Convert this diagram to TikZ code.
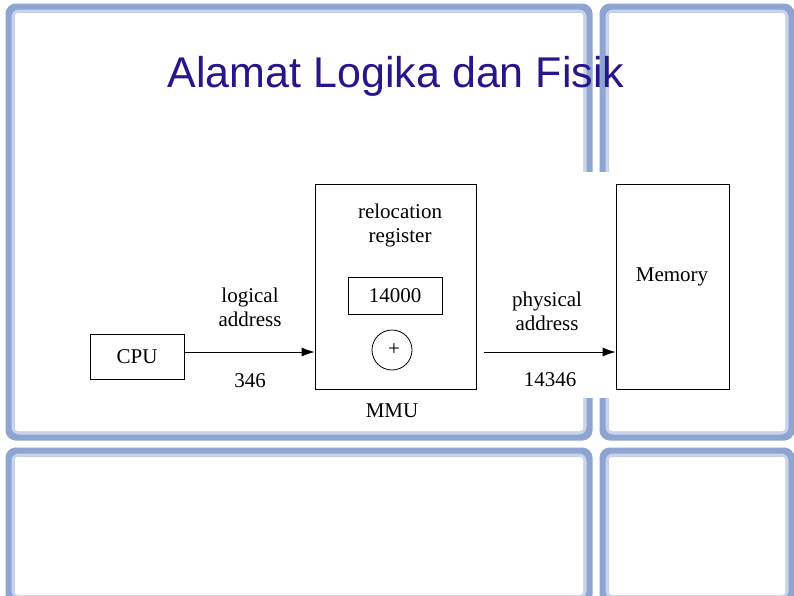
\documentclass[tikz,border=0pt]{standalone}
\usepackage{fontspec}
\setmainfont{Liberation Serif}
\newfontfamily\titlefont{Liberation Sans}
\definecolor{frblue}{RGB}{142,165,210}
\definecolor{frlight}{RGB}{200,212,235}
\definecolor{titlec}{RGB}{40,20,140}
\usetikzlibrary{arrows.meta}
\begin{document}
\begin{tikzpicture}[x=1pt,y=-1pt,
  frame/.style={draw=frblue,line width=9pt,rounded corners=6pt},
  frin/.style={draw=frlight,line width=3pt,rounded corners=6pt},
  blk/.style={draw,line width=0.8pt,fill=white},
  lbl/.style={font=\fontsize{21}{24}\selectfont,align=center,inner sep=0pt},
  arr/.style={-{Latex[length=13pt,width=9pt]},line width=0.8pt}]
\useasboundingbox (0,0) rectangle (794,595);
\fill[white] (0,0) rectangle (794,595);
% slide frames
\foreach \a/\b/\c/\d in {10/8/588/436, 604/8/790/436, 10/452/588/600, 604/452/790/600}{
  \draw[frame] (\a,\b) rectangle (\c,\d);
  \draw[frin] (\a+3,\b+3) rectangle (\c-3,\d-3);
}
\fill[white] (300,172) rectangle (622,398);
% title
\node[font=\titlefont\fontsize{43}{46}\selectfont,text=titlec] (title) at (396,76) {Alamat Logika dan Fisik};
% diagram
\node[blk,minimum width=94,minimum height=45] (cpu) at (137,356.5) {};
\node[lbl] (cput) at (cpu) {CPU};
\node[blk,minimum width=161,minimum height=205] (mmu) at (395.5,286.5) {};
\node[blk,minimum width=94,minimum height=37] (reg) at (395,295.5) {};
\node[lbl] (regt) at (reg) {14000};
\node[draw,circle,line width=0.8pt,minimum size=40] (plus) at (392,350) {};
\node[lbl] (plust) at (394,350) {+};
\node[blk,minimum width=113,minimum height=205] (mem) at (672.5,286.5) {};
\node[lbl] (memt) at (672,277) {Memory};
\node[lbl] (rr) at (400,225) {relocation\\register};
\node[lbl] (la) at (250,307) {logical\\address};
\node[lbl] (n346) at (250,381) {346};
\node[lbl] (pa) at (547,311) {physical\\address};
\node[lbl] (n14346) at (550,380) {14346};
\node[lbl] (mmut) at (392,411) {MMU};
\coordinate (outs) at (484,352);
\draw[arr] (cpu.east |- 0,352) -- (mmu.west |- 0,352);
\draw[arr] (outs) -- (mem.west |- outs);
\end{tikzpicture}
\end{document}
